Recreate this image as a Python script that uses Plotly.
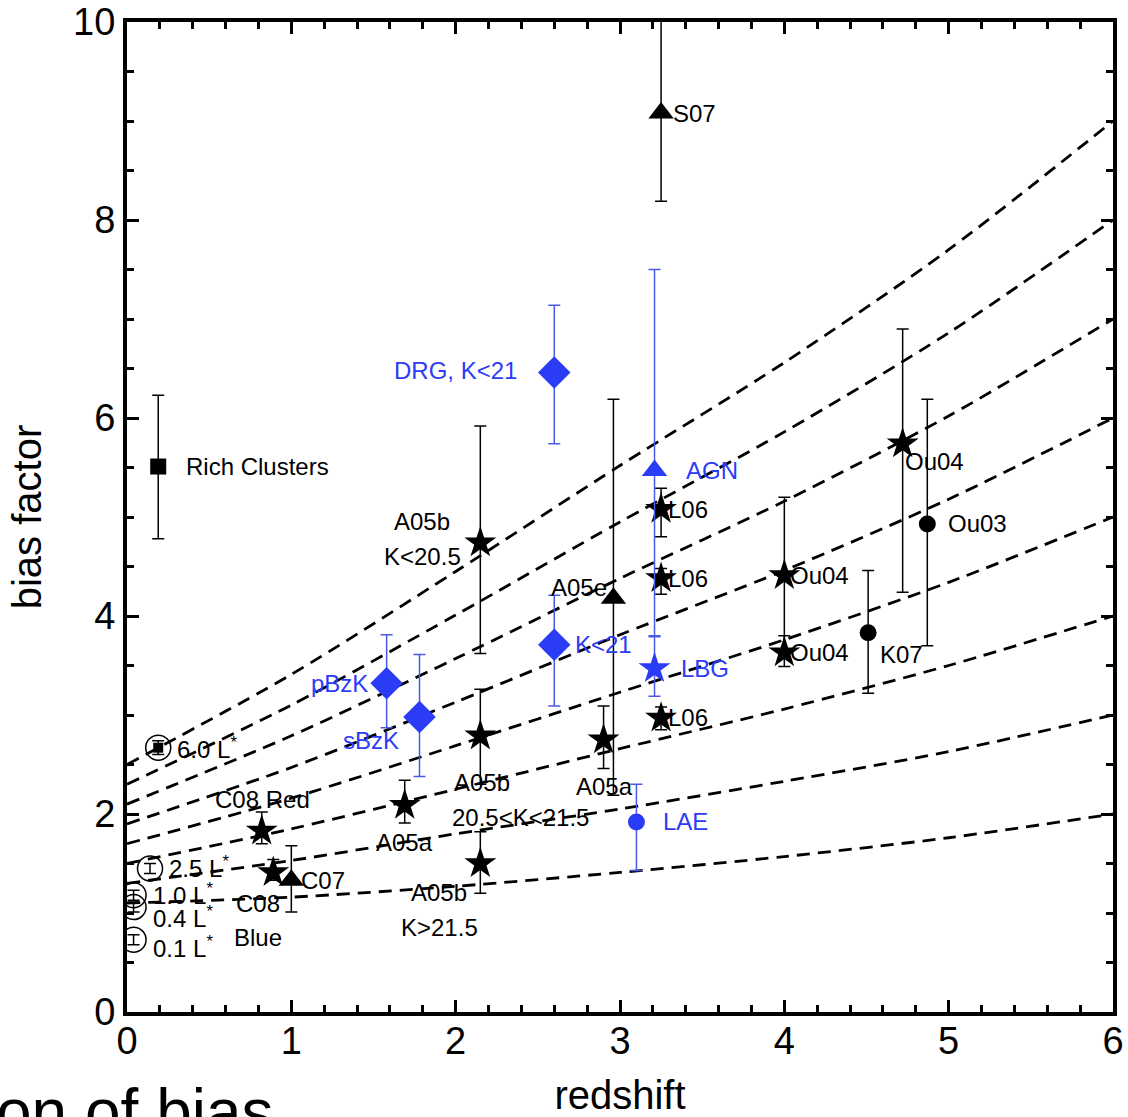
import plotly.graph_objects as go

# ---- dashed bias tracks, sampled at integer redshifts ----
track_z = [0, 1, 2, 3, 4, 5, 6]
track_b = [
    [2.5, 3.41, 4.45, 5.52, 6.56, 7.70, 9.0],
    [2.3, 3.10, 4.01, 4.95, 5.86, 6.86, 8.0],
    [2.1, 2.79, 3.57, 4.38, 5.16, 6.02, 7.0],
    [1.9, 2.47, 3.13, 3.81, 4.46, 5.18, 6.0],
    [1.7, 2.16, 2.69, 3.23, 3.76, 4.34, 5.0],
    [1.5, 1.85, 2.25, 2.66, 3.06, 3.50, 4.0],
    [1.3, 1.53, 1.80, 2.05, 2.33, 2.63, 3.0],
    [1.1, 1.16, 1.27, 1.41, 1.57, 1.76, 2.0],
]

# ---- black stars: A05b, A05b, A05b, A05a, A05a, L06 x3, Ou04 x3, C08 Red, C08 Blue ----
star_z = [2.15, 2.15, 2.15, 1.69, 2.90, 3.25, 3.25, 3.25, 4.00, 4.00, 4.72, 0.82, 0.89]
star_b = [4.74, 2.79, 1.50, 2.09, 2.75, 5.08, 4.38, 2.97, 4.41, 3.63, 5.74, 1.83, 1.41]
star_ep = [1.18, 0.47, 0.32, 0.25, 0.34, 0.21, 0.10, 0.11, 0.79, 0.17, 1.16, 0.19, 0.13]
star_em = [1.12, 0.49, 0.30, 0.18, 0.29, 0.28, 0.16, 0.12, 0.76, 0.14, 1.50, 0.13, 0.08]

# ---- black triangles: S07, A05e, C07 ----
tri_z = [3.25, 2.96, 1.00]
tri_b = [9.08, 4.18, 1.33]
tri_ep = [1.60, 2.01, 0.35]
tri_em = [0.89, 1.99, 0.32]

# ---- rich clusters ----
rc_z = [0.19]
rc_b = [5.51]
rc_ep = [0.72]
rc_em = [0.73]

# ---- black dots: Ou03, K07 ----
dot_z = [4.87, 4.51]
dot_b = [4.93, 3.83]
dot_ep = [1.26, 0.63]
dot_em = [1.23, 0.61]

# ---- local galaxies by luminosity ----
lum_names = ["6.0", "2.5", "1.0", "0.4", "0.1"]
lum_z = [0.19, 0.14, 0.04, 0.04, 0.04]
lum_b = [2.67, 1.45, 1.18, 1.06, 0.73]
lum_err = [0.07, 0.05, 0.05, 0.05, 0.05]

# ---- blue samples ----
dia_names = ["DRG, K<21", "K<21", "pBzK", "sBzK"]
dia_z = [2.60, 2.60, 1.58, 1.78]
dia_b = [6.46, 3.71, 3.32, 2.98]
dia_ep = [0.68, 0.50, 0.49, 0.63]
dia_em = [0.72, 0.62, 0.45, 0.60]

agn_z, agn_b, agn_ep, agn_em = [3.21], [5.47], [2.03], [1.67]
lbg_z, lbg_b, lbg_ep, lbg_em = [3.21], [3.47], [0.32], [0.28]
lae_z, lae_b, lae_ep, lae_em = [3.10], [1.92], [0.38], [0.49]

BLUE = "#2b3cf7"
BLUE_BAR = "#4a5ae8"
FONT = "Liberation Sans, Arial, Helvetica, sans-serif"
LABEL_SIZE = 24

fig = go.Figure()

for b in track_b:
    fig.add_trace(go.Scatter(
        x=track_z, y=b, mode="lines",
        line=dict(color="black", width=2.8, dash="13px,8px", shape="spline", smoothing=0.8),
        hoverinfo="skip", showlegend=False))


def err(ep, em, color="black"):
    return dict(type="data", symmetric=False, array=ep, arrayminus=em,
                color=color, thickness=1.5, width=6)


def pts(x, y, ep, em, symbol, size, color, bar=None, line=None):
    fig.add_trace(go.Scatter(
        x=x, y=y, mode="markers",
        marker=dict(symbol=symbol, size=size, color=color,
                    line=line or dict(width=0)),
        error_y=err(ep, em, bar or color),
        hoverinfo="skip", showlegend=False))


# open circles for local galaxies, with a small square on the brightest one
pts(lum_z, lum_b, lum_err, lum_err, "circle-open", 25, "black",
    line=dict(color="black", width=1.5))
fig.add_trace(go.Scatter(x=lum_z[:1], y=lum_b[:1], mode="markers",
                         marker=dict(symbol="square", size=10, color="black"),
                         hoverinfo="skip", showlegend=False))

pts(rc_z, rc_b, rc_ep, rc_em, "square", 16, "black")
pts(dot_z, dot_b, dot_ep, dot_em, "circle", 17, "black")
pts(tri_z, tri_b, tri_ep, tri_em, "triangle-up", 22, "black")
pts(star_z, star_b, star_ep, star_em, "star", 24, "black")

pts(dia_z, dia_b, dia_ep, dia_em, "diamond", 25, BLUE, BLUE_BAR)
pts(agn_z, agn_b, agn_ep, agn_em, "triangle-up", 22, BLUE, BLUE_BAR)
pts(lbg_z, lbg_b, lbg_ep, lbg_em, "star", 24, BLUE, BLUE_BAR)
pts(lae_z, lae_b, lae_ep, lae_em, "circle", 17, BLUE, BLUE_BAR)

# ---- text labels, placed relative to their points ----
labels = []


def lab(text, x, y, dx=0, dy=0, anchor="left", color="black"):
    labels.append(dict(text=text, x=x, y=y, xref="x", yref="y",
                       xanchor=anchor, yanchor="middle", xshift=dx, yshift=dy,
                       showarrow=False, font=dict(size=LABEL_SIZE, color=color, family=FONT)))


lab("Rich Clusters", rc_z[0], rc_b[0], 26)
lab("S07", tri_z[0], tri_b[0], 10)
lab("A05e", tri_z[1], tri_b[1], -4, 11, "right")
lab("C07", tri_z[2], tri_b[2], 8)

lab("A05b", star_z[0], star_b[0], -58, 21, "center")
lab("K<20.5", star_z[0], star_b[0], -58, -14, "center")
lab("A05b", star_z[1], star_b[1], 2, -47, "center")
lab("20.5<K<21.5", star_z[1], star_b[1], 40, -82, "center")
lab("A05b", star_z[2], star_b[2], -41, -29, "center")
lab("K>21.5", star_z[2], star_b[2], -41, -64, "center")
lab("A05a", star_z[3], star_b[3], 0, -37, "center")
lab("A05a", star_z[4], star_b[4], 1, -47, "center")
for i in (5, 6, 7):
    lab("L06", star_z[i], star_b[i], 5)
lab("Ou04", star_z[8], star_b[8], 4)
lab("Ou04", star_z[9], star_b[9], 4)
lab("Ou04", star_z[10], star_b[10], 0, -18)
lab("C08 Red", star_z[11], star_b[11], 1, 31, "center")
lab("C08", star_z[12], star_b[12], -15, -31, "center")
lab("Blue", star_z[12], star_b[12], -15, -65, "center")

lab("Ou03", dot_z[0], dot_b[0], 19)
lab("K07", dot_z[1], dot_b[1], 10, -22)

lum_dy = [0, 1, 1, -10, -7]
for name, z, b, dy in zip(lum_names, lum_z, lum_b, lum_dy):
    lab(name + " L<sup>*</sup>", z, b, 17, dy)

lab(dia_names[0], dia_z[0], dia_b[0], -35, 2, "right", BLUE)
lab(dia_names[1], dia_z[1], dia_b[1], 19, 0, "left", BLUE)
lab(dia_names[2], dia_z[2], dia_b[2], -17, 0, "right", BLUE)
lab(dia_names[3], dia_z[3], dia_b[3], -19, -24, "right", BLUE)
lab("AGN", agn_z[0], agn_b[0], 29, 0, "left", BLUE)
lab("LBG", lbg_z[0], lbg_b[0], 24, 0, "left", BLUE)
lab("LAE", lae_z[0], lae_b[0], 25, 0, "left", BLUE)

# slide heading fragment below the chart
labels.append(dict(text="on of bias", xref="paper", yref="paper", x=0, y=0,
                   xanchor="left", yanchor="top", xshift=-133, yshift=-62,
                   showarrow=False, font=dict(size=64, color="black", family=FONT)))

axis_common = dict(
    showgrid=False, zeroline=False, showline=True, linewidth=4, linecolor="black",
    mirror="allticks", ticks="inside", ticklen=12, tickwidth=3, tickcolor="black",
    automargin=False,
    tickfont=dict(size=38, color="black", family=FONT),
)

fig.update_layout(
    width=1128, height=1117,
    margin=dict(l=127, r=15, t=22, b=105, autoexpand=False),
    paper_bgcolor="white", plot_bgcolor="white",
    font=dict(family=FONT, color="black"),
    xaxis=dict(range=[0, 6], dtick=1, tick0=0, ticklabelstandoff=-8,
               minor=dict(dtick=0.2, ticks="inside", ticklen=7, tickwidth=2.5, tickcolor="black"),
               title=dict(text="redshift", font=dict(size=40, family=FONT), standoff=33),
               **axis_common),
    yaxis=dict(range=[0, 10], dtick=2, tick0=0,
               minor=dict(dtick=0.5, ticks="inside", ticklen=7, tickwidth=2.5, tickcolor="black"),
               title=dict(text="bias factor", font=dict(size=40, family=FONT), standoff=20),
               **axis_common),
    annotations=labels,
)

fig.write_html("out.html")
